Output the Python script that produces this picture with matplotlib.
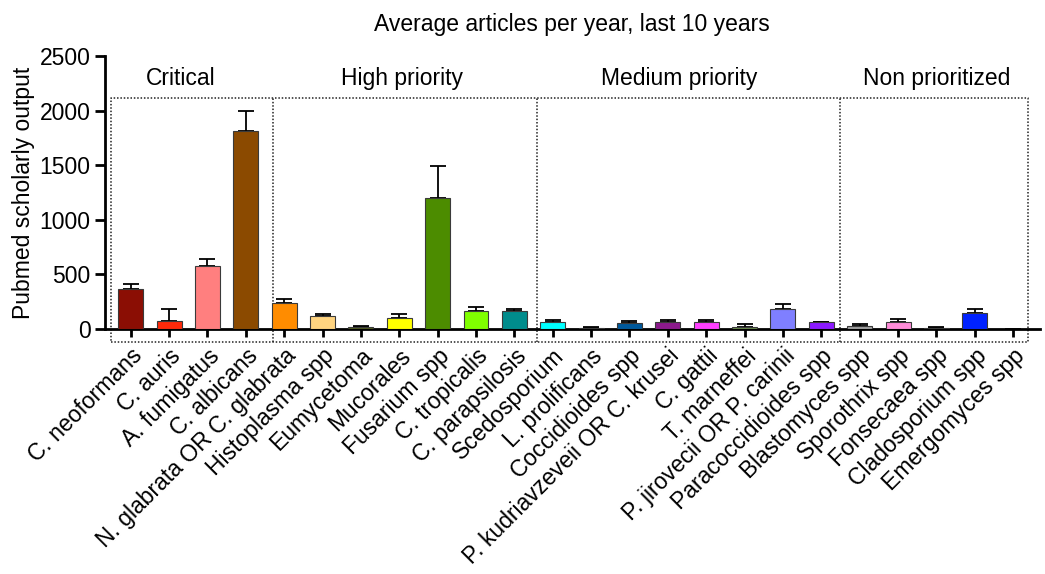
import numpy as np
import matplotlib
matplotlib.use("Agg")
from matplotlib import pyplot as plt

plt.rcParams['font.family'] = ['Liberation Sans', 'DejaVu Sans']

## data
names = [
    "C. neoformans", "C. auris", "A. fumigatus", "C. albicans",
    "N. glabrata OR C. glabrata", "Histoplasma spp", "Eumycetoma",
    "Mucorales", "Fusarium spp", "C. tropicalis", "C. parapsilosis",
    "Scedosporium", "L. prolificans", "Coccidioides spp",
    "P. kudriavzeveii OR C. krusei", "C. gattii", "T. marneffei",
    "P. jirovecii OR P. carinii", "Paracoccidioides spp", "Blastomyces spp",
    "Sporothrix spp", "Fonsecaea spp", "Cladosporium spp", "Emergomyces spp",
]
means = [365, 75, 580, 1810, 242, 120, 15, 102, 1202, 168, 163, 64, 10, 56,
         67, 67, 18, 180, 67, 28, 67, 10, 147, 3]
upper = [410, 180, 640, 1992, 276, 138, 30, 138, 1490, 198, 184, 79, 14, 74,
         80, 79, 46, 230, 67, 43, 92, 18, 180, 3]
colors = ['#8b0e04', '#ff2a0a', '#ff7f7f', '#8b4a00', '#ff8c00', '#ffd480', '#4f5a1e',
          '#ffff00', '#4c8c00', '#80ff00', '#008c8c', '#00ffff', '#1f3d5c', '#00599c',
          '#8b1a8b', '#ff40ff', '#6b8e4e', '#7f7fff', '#8c1aff', '#a0a0a0',
          '#ff8cd9', '#333333', '#0022ff', '#d0d0d0']
groups = ["Critical", "High priority", "Medium priority", "Non prioritized"]
group_label_x = [1.29, 7.07, 14.3, 21.0]
dividers = [3.71, 10.59, 18.49]

x = np.arange(len(means))
means = np.array(means)
upper = np.array(upper)
fs = 16.5

fig = plt.figure(figsize=(10.45, 5.74), dpi=100)
ax = fig.add_axes([0.1005, 0.4268, 0.8947, 0.4756])

ax.bar(x, means, width=0.65, color=colors, edgecolor='#3a3a3a', linewidth=0.8, zorder=3)
ax.errorbar(x, means, yerr=[np.zeros_like(means), upper - means], fmt='none',
            ecolor='black', elinewidth=1.3, capsize=6, capthick=1.3, zorder=2)

ax.set_xlim(-0.67, 23.70)
ax.set_ylim(0, 2500)
ax.set_yticks([0, 500, 1000, 1500, 2000, 2500])
ax.set_xticks(x)
ax.set_xticklabels(names, rotation=45, ha='right', rotation_mode='anchor', fontsize=fs)
ax.tick_params(axis='x', length=6, width=2, pad=5)
ax.tick_params(axis='y', length=7, width=2, labelsize=fs, pad=3.5)
for s in ['top', 'right']:
    ax.spines[s].set_visible(False)
ax.spines['left'].set_linewidth(2)
ax.spines['bottom'].set_linewidth(2)
ax.set_ylabel("Pubmed scholarly output", fontsize=fs, labelpad=3)

# dotted group boxes
box_kw = dict(color='#222222', linestyle=(0, (1, 1.2)), linewidth=1.1, clip_on=False, zorder=1)
left, right, top, bottom = -0.52, 23.39, 2120, -115
ax.plot([left, right, right, left, left], [bottom, bottom, top, top, bottom], **box_kw)
for d in dividers:
    ax.plot([d, d], [bottom, top], **box_kw)
for g, gx in zip(groups, group_label_x):
    ax.text(gx, 2290, g, ha='center', va='center', fontsize=fs)

fig.text(0.547, 0.958, "Average articles per year, last 10 years", ha='center', va='center',
         fontsize=fs)

plt.savefig("out.png", dpi=100)
